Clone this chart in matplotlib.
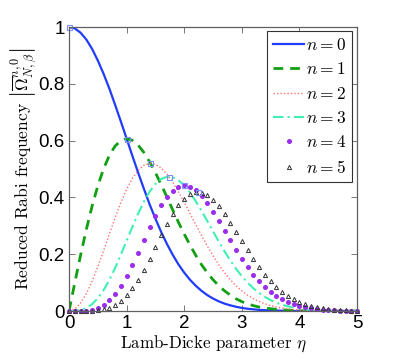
import matplotlib
matplotlib.use("Agg")
import matplotlib.pyplot as plt

plt.rcParams["mathtext.fontset"] = "cm"
plt.rcParams["font.family"] = ["Liberation Sans", "DejaVu Sans"]

eta = [0.0, 0.1, 0.2, 0.3, 0.4, 0.5, 0.6, 0.7, 0.8, 0.9,
       1.0, 1.1, 1.2, 1.3, 1.4, 1.5, 1.6, 1.7, 1.8, 1.9,
       2.0, 2.1, 2.2, 2.3, 2.4, 2.5, 2.6, 2.7, 2.8, 2.9,
       3.0, 3.1, 3.2, 3.3, 3.4, 3.5, 3.6, 3.7, 3.8, 3.9,
       4.0, 4.1, 4.2, 4.3, 4.4, 4.5, 4.6, 4.7, 4.8, 4.9, 5.0]

omega_n0 = [1.000, 0.995, 0.980, 0.956, 0.923, 0.882, 0.835, 0.783, 0.726, 0.667,
            0.607, 0.546, 0.487, 0.430, 0.375, 0.325, 0.278, 0.236, 0.198, 0.164,
            0.135, 0.110, 0.089, 0.071, 0.056, 0.044, 0.034, 0.026, 0.020, 0.015,
            0.011, 0.008, 0.006, 0.004, 0.003, 0.002, 0.002, 0.001, 0.001, 0.000,
            0.000, 0.000, 0.000, 0.000, 0.000, 0.000, 0.000, 0.000, 0.000, 0.000, 0.000]

omega_n1 = [0.000, 0.0995, 0.196, 0.287, 0.369, 0.441, 0.501, 0.548, 0.581, 0.600,
            0.607, 0.601, 0.584, 0.558, 0.525, 0.487, 0.445, 0.401, 0.356, 0.312,
            0.271, 0.232, 0.196, 0.163, 0.135, 0.110, 0.089, 0.071, 0.056, 0.043,
            0.033, 0.025, 0.019, 0.014, 0.011, 0.008, 0.006, 0.004, 0.003, 0.002,
            0.001, 0.001, 0.001, 0.000, 0.000, 0.000, 0.000, 0.000, 0.000, 0.000, 0.000]

omega_n2 = [0.000, 0.0070, 0.0277, 0.0608, 0.1044, 0.1560, 0.2126, 0.2712, 0.3286, 0.3820,
            0.4289, 0.4672, 0.4956, 0.5133, 0.5202, 0.5165, 0.5033, 0.4818, 0.4534, 0.4198,
            0.3828, 0.3438, 0.3043, 0.2656, 0.2286, 0.1942, 0.1628, 0.1346, 0.1100, 0.0887,
            0.0707, 0.0557, 0.0433, 0.0333, 0.0253, 0.0190, 0.0140, 0.0103, 0.0075, 0.0054,
            0.0038, 0.0027, 0.0018, 0.0013, 0.0009, 0.0006, 0.0004, 0.0002, 0.0002, 0.0001, 0.0001]

omega_n3 = [0.000, 0.0004, 0.0032, 0.0105, 0.0241, 0.0450, 0.0736, 0.1096, 0.1518, 0.1985,
            0.2476, 0.2967, 0.3434, 0.3853, 0.4205, 0.4473, 0.4649, 0.4729, 0.4712, 0.4605,
            0.4420, 0.4168, 0.3865, 0.3527, 0.3168, 0.2803, 0.2444, 0.2098, 0.1778, 0.1485,
            0.1225, 0.0997, 0.0800, 0.0634, 0.0497, 0.0384, 0.0291, 0.0220, 0.0165, 0.0122,
            0.0088, 0.0064, 0.0044, 0.0032, 0.0023, 0.0016, 0.0011, 0.0007, 0.0005, 0.0003, 0.0002]

omega_n4 = [0.000, 0.0000, 0.0003, 0.0016, 0.0048, 0.0113, 0.0221, 0.0384, 0.0607, 0.0893,
            0.1238, 0.1632, 0.2060, 0.2504, 0.2944, 0.3355, 0.3719, 0.4020, 0.4241, 0.4375,
            0.4420, 0.4376, 0.4252, 0.4056, 0.3802, 0.3504, 0.3177, 0.2832, 0.2489, 0.2153,
            0.1838, 0.1545, 0.1280, 0.1046, 0.0845, 0.0672, 0.0524, 0.0407, 0.0314, 0.0238,
            0.0176, 0.0131, 0.0092, 0.0069, 0.0051, 0.0036, 0.0025, 0.0016, 0.0012, 0.0007, 0.0005]

omega_n5 = [0.000, 0.0000, 0.0000, 0.0002, 0.0009, 0.0025, 0.0059, 0.0120, 0.0217, 0.0359,
            0.0554, 0.0803, 0.1106, 0.1456, 0.1843, 0.2251, 0.2661, 0.3056, 0.3414, 0.3718,
            0.3953, 0.4110, 0.4183, 0.4172, 0.4081, 0.3918, 0.3694, 0.3420, 0.3117, 0.2792,
            0.2466, 0.2142, 0.1832, 0.1544, 0.1285, 0.1052, 0.0844, 0.0673, 0.0534, 0.0415,
            0.0315, 0.0240, 0.0173, 0.0133, 0.0100, 0.0072, 0.0051, 0.0034, 0.0026, 0.0015, 0.0011]

# maxima of each curve
peak_eta = [0.0, 1.0, 1.414, 1.732, 2.0, 2.236]
peak_val = [1.0, 0.607, 0.520, 0.473, 0.442, 0.419]

xticks = [0, 1, 2, 3, 4, 5]
yticks = [0, 0.2, 0.4, 0.6, 0.8, 1]
ytick_labels = ["0", "0.2", "0.4", "0.6", "0.8", "1"]

fig = plt.figure(figsize=(3.99, 3.6), dpi=100)
ax = fig.add_axes([0.173, 0.136, 0.722, 0.789])

ax.plot(eta, omega_n0, color="#1f3cff", lw=1.6, label=r"$n=0$")
ax.plot(eta, omega_n1, color="#11a011", lw=2.0, ls=(0, (3.5, 2.5)), label=r"$n=1$")
ax.plot(eta, omega_n2, color="#ff7070", lw=1.0, ls=(0, (1, 1.5)), label=r"$n=2$")
ax.plot(eta, omega_n3, color="#40f0b0", lw=1.5, ls=(0, (5, 2, 1, 2)), label=r"$n=3$")
ax.plot(eta, omega_n4, ls="none", marker="o", ms=2.6, color="#9b2cf0", mec="#9b2cf0",
        clip_on=False, label=r"$n=4$")
ax.plot(eta, omega_n5, ls="none", marker="^", ms=3.0, mfc="none", mec="#333333", mew=0.7,
        clip_on=False, label=r"$n=5$")
ax.plot(peak_eta, peak_val, ls="none", marker="s", ms=3.6, mfc="none", mec="#7f90ff", mew=0.8,
        clip_on=False)

ax.set_xlim(0, 5)
ax.set_ylim(0, 1)
ax.set_xticks(xticks)
ax.set_yticks(yticks)
ax.set_yticklabels(ytick_labels)
ax.tick_params(direction="in", top=True, right=True, length=4, width=0.6,
               color="#606060", labelsize=13.5, pad=3)
for s in ax.spines.values():
    s.set_color("#606060")
    s.set_linewidth(0.9)

ax.set_xlabel(r"Lamb-Dicke parameter $\eta$", fontfamily="cmr10", fontsize=12.2, labelpad=1)
ax.set_ylabel(r"Reduced Rabi frequency $\left|\overline{\Omega}^{n,0}_{N,\beta}\right|$",
              fontfamily="cmr10", fontsize=12.6, labelpad=0)

leg = ax.legend(loc="upper right", bbox_to_anchor=(0.983, 0.986), fontsize=12.5,
                fancybox=False, edgecolor="#333333", framealpha=1, numpoints=1,
                handlelength=1.8, handletextpad=0.1, labelspacing=0.48,
                borderpad=0.35, borderaxespad=0)
leg.get_frame().set_linewidth(0.8)

fig.savefig("out.png", dpi=100)
